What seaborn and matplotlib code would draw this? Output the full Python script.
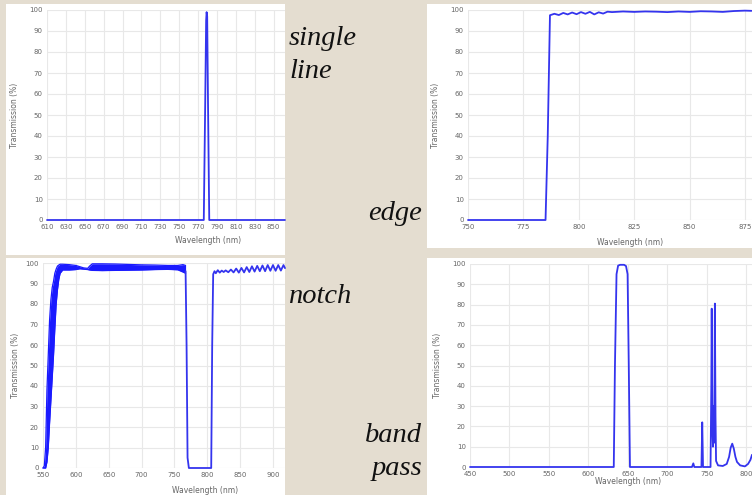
import pandas as pd
import matplotlib
matplotlib.use('Agg')
import matplotlib.pyplot as plt
from matplotlib.patches import Rectangle
import seaborn as sns

sns.set_style('whitegrid')

# data
# single line
sl_nm = [610, 776, 777.5, 778.5, 779, 779.6, 780.5, 781.8, 862]
sl_T = [0, 0, 55, 95, 99, 97, 55, 0, 0]

# edge
edge_nm = [750, 785, 786, 787, 789, 791, 793, 795, 797, 799, 801, 803, 805, 807, 809,
           811, 813, 815, 820, 825, 830, 835, 840, 845, 850, 855, 860, 865, 870, 875, 878]
edge_T = [0, 0, 40, 97.5, 98.2, 97.6, 98.6, 97.9, 98.8, 98.0, 99.0, 98.2, 99.1, 97.9, 98.9,
          98.3, 99.2, 99.0, 99.3, 99.1, 99.3, 99.2, 99.0, 99.3, 99.1, 99.4, 99.3, 99.1, 99.5, 99.7, 99.6]

# notch: densely oscillating part given as upper / lower envelope
notch_band_nm = [550, 552, 554, 556, 558, 560, 562, 564, 566, 568, 570, 572, 574, 576, 580,
                 590, 600, 606, 612, 618, 621, 625, 640, 660, 680, 700, 720, 740, 755, 763, 767]
notch_hi = [0, 1, 10, 38, 55, 72, 82, 88, 91, 95, 97, 98.5, 99, 99.4, 99.4,
            99.2, 98.8, 98.2, 97.6, 97.4, 98.5, 99.6, 99.6, 99.5, 99.3, 99.1, 99.0, 98.8, 98.8, 99.2, 98.8]
notch_lo = [0, 0, 0, 3, 10, 22, 33, 44, 55, 68, 80, 87, 92, 95, 96.6,
            96.6, 96.8, 97.2, 97.0, 96.8, 96.6, 96.4, 96.3, 96.4, 96.5, 96.6, 96.8, 96.9, 96.7, 95.6, 95.0]
notch_nm = [767, 768.5, 770, 772, 806, 807.5, 809, 811, 813, 816, 819, 822, 825, 828, 832, 836,
            840, 844, 848, 852, 856, 860, 864, 868, 872, 876, 880, 884, 888, 892, 896, 900,
            904, 908, 912, 916, 918.3]
notch_T = [96, 60, 5, 0, 0, 60, 94.5, 96.0, 95.0, 96.5, 95.3, 96.3, 95.6, 96.4, 95.5, 96.8,
           95.4, 97.3, 95.3, 97.6, 95.4, 98.0, 95.6, 98.4, 95.8, 98.6, 96.0, 98.8, 96.0, 99.0, 96.2, 99.0,
           96.2, 99.0, 96.3, 99.0, 97.5]

# band pass
bp_nm = [450, 632, 633.5, 635.5, 637.5, 640, 645, 647.5, 649.5, 651, 652.5, 731, 732.7, 734,
         743, 744, 745, 754.5, 755.5, 756, 756.8, 757.6, 758.4, 759.2, 760, 760.8, 761.5, 764,
         770, 775, 778, 780, 782, 784, 786, 788, 792, 798, 802, 805, 807]
bp_T = [0, 0, 50, 95, 99.2, 99.6, 99.6, 99, 95, 50, 0, 0, 1.8, 0,
        0, 22, 0, 0, 40, 78, 20, 10, 30, 12, 80.5, 25, 3, 0.8,
        0.5, 1.5, 5, 9.5, 11.5, 9, 5, 2.5, 0.8, 0.3, 1.5, 3.5, 6]

W, H = 752, 495
blue = '#3434ee'
beige = '#e4ddd0'

fig = plt.figure(figsize=(W / 100, H / 100), dpi=100)
fig.patch.set_facecolor(beige)

# white panels behind each chart (pixel boxes)
for (x0, y0, x1, y1) in [(6, 4, 285, 255), (427, 4, 752, 248), (6, 258, 285, 495), (427, 258, 752, 495)]:
    fig.add_artist(Rectangle((x0 / W, 1 - y1 / H), (x1 - x0) / W, (y1 - y0) / H,
                             transform=fig.transFigure, facecolor='white',
                             edgecolor='none', zorder=0))


def make_ax(x0, x1, ytop, ybot, xlim, xticks, xlab_x, xlab_y, ylab_x):
    ax = fig.add_axes([x0 / W, 1 - ybot / H, (x1 - x0) / W, (ybot - ytop) / H])
    ax.set_facecolor('none')
    ax.set_xlim(*xlim)
    ax.set_ylim(0, 100)
    ax.set_xticks(xticks)
    ax.set_yticks(range(0, 101, 10))
    ax.grid(True, color='#e8e8e8', linewidth=0.8)
    for s in ax.spines.values():
        s.set_visible(False)
    ax.tick_params(length=0, labelsize=5, colors='#666666', pad=3)
    ax.set_xlabel('Wavelength (nm)', fontsize=5.5, color='#666666')
    ax.set_ylabel('Transmission (%)', fontsize=5.5, color='#666666')
    ax.xaxis.set_label_coords(xlab_x, xlab_y)
    ax.yaxis.set_label_coords(ylab_x, 0.5)
    return ax


ax1 = make_ax(47, 285, 10, 220, (610, 862), range(610, 851, 20), 0.677, -0.076, -0.116)
ax2 = make_ax(468, 752, 10, 220, (750, 878.2), range(750, 876, 25), 0.57, -0.086, -0.097)
ax3 = make_ax(43, 285, 263, 468, (550, 918.3), range(550, 901, 50), 0.67, -0.088, -0.095)
ax4 = make_ax(470, 752, 264, 467, (450, 807), range(450, 801, 50), 0.56, -0.047, -0.101)

kw = dict(color=blue, linewidth=1.3, estimator=None, sort=False, legend=False)
sns.lineplot(x=sl_nm, y=sl_T, ax=ax1, **kw)
sns.lineplot(x=edge_nm, y=edge_T, ax=ax2, **kw)
ax3.fill_between(notch_band_nm, notch_lo, notch_hi, color='#1a1aff', linewidth=0)
sns.lineplot(x=notch_band_nm, y=notch_hi, ax=ax3, **dict(kw, linewidth=0.9, color='#1a1aff'))
sns.lineplot(x=notch_band_nm, y=notch_lo, ax=ax3, **dict(kw, linewidth=0.9, color='#1a1aff'))
sns.lineplot(x=notch_nm, y=notch_T, ax=ax3, **kw)
sns.lineplot(x=bp_nm, y=bp_T, ax=ax4, **kw)

for ax in [ax1, ax2, ax3, ax4]:
    for ln in ax.get_lines():
        ln.set_clip_on(False)
    for c in ax.collections:
        c.set_clip_on(False)

# captions
tkw = dict(fontsize=20.5, family='Liberation Serif', style='italic', color='#111111', va='baseline')
fig.text(289 / W, 1 - 45 / H, 'single', ha='left', **tkw)
fig.text(289 / W, 1 - 78 / H, 'line', ha='left', **tkw)
fig.text(422 / W, 1 - 220 / H, 'edge', ha='right', **tkw)
fig.text(289 / W, 1 - 303 / H, 'notch', ha='left', **tkw)
fig.text(422 / W, 1 - 442 / H, 'band', ha='right', **tkw)
fig.text(422 / W, 1 - 475 / H, 'pass', ha='right', **tkw)

fig.savefig('out.png', dpi=100, facecolor=fig.get_facecolor())
